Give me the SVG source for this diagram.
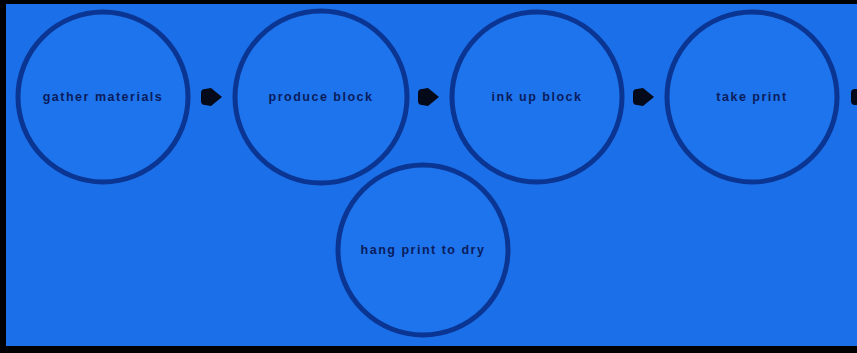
<svg xmlns="http://www.w3.org/2000/svg" width="857" height="353" viewBox="0 0 857 353">
<defs>
<style>
.bg{fill:#1b6fe8}
.node circle{fill:#1e74ec;stroke:#0b3592;stroke-width:5}
.node text{font-family:"Liberation Sans",Arial,sans-serif;font-size:12.5px;font-weight:bold;fill:#0a1c5c;text-anchor:middle;letter-spacing:1.5px}
.arrow{fill:#050a1a}
</style>
</defs>
<rect x="0" y="0" width="857" height="353" fill="#000"/>
<rect class="bg" x="6" y="4" width="851" height="342"/>
<g id="connectors">
<path class="arrow" d="M201,93 Q201,89 205,89 L211,88 L222,97 L211,106 L205,105 Q201,105 201,101 Z"/>
<path class="arrow" d="M418,93 Q418,89 422,89 L428,88 L439,97 L428,106 L422,105 Q418,105 418,101 Z"/>
<path class="arrow" d="M633,93 Q633,89 637,89 L643,88 L654,97 L643,106 L637,105 Q633,105 633,101 Z"/>
<path class="arrow" d="M851,93 Q851,89 855,89 L857,89 L857,105 L855,105 Q851,105 851,101 Z"/>
</g>
<g id="n1" class="node"><circle cx="103" cy="97" r="85"/><text x="103" y="101">gather materials</text></g>
<g id="n2" class="node"><circle cx="321" cy="97" r="86"/><text x="321" y="101">produce block</text></g>
<g id="n3" class="node"><circle cx="537" cy="97" r="85"/><text x="537" y="101">ink up block</text></g>
<g id="n4" class="node"><circle cx="752" cy="97" r="85"/><text x="752" y="101">take print</text></g>
<g id="n5" class="node"><circle cx="423" cy="250" r="85"/><text x="423" y="254">hang print to dry</text></g>
</svg>
